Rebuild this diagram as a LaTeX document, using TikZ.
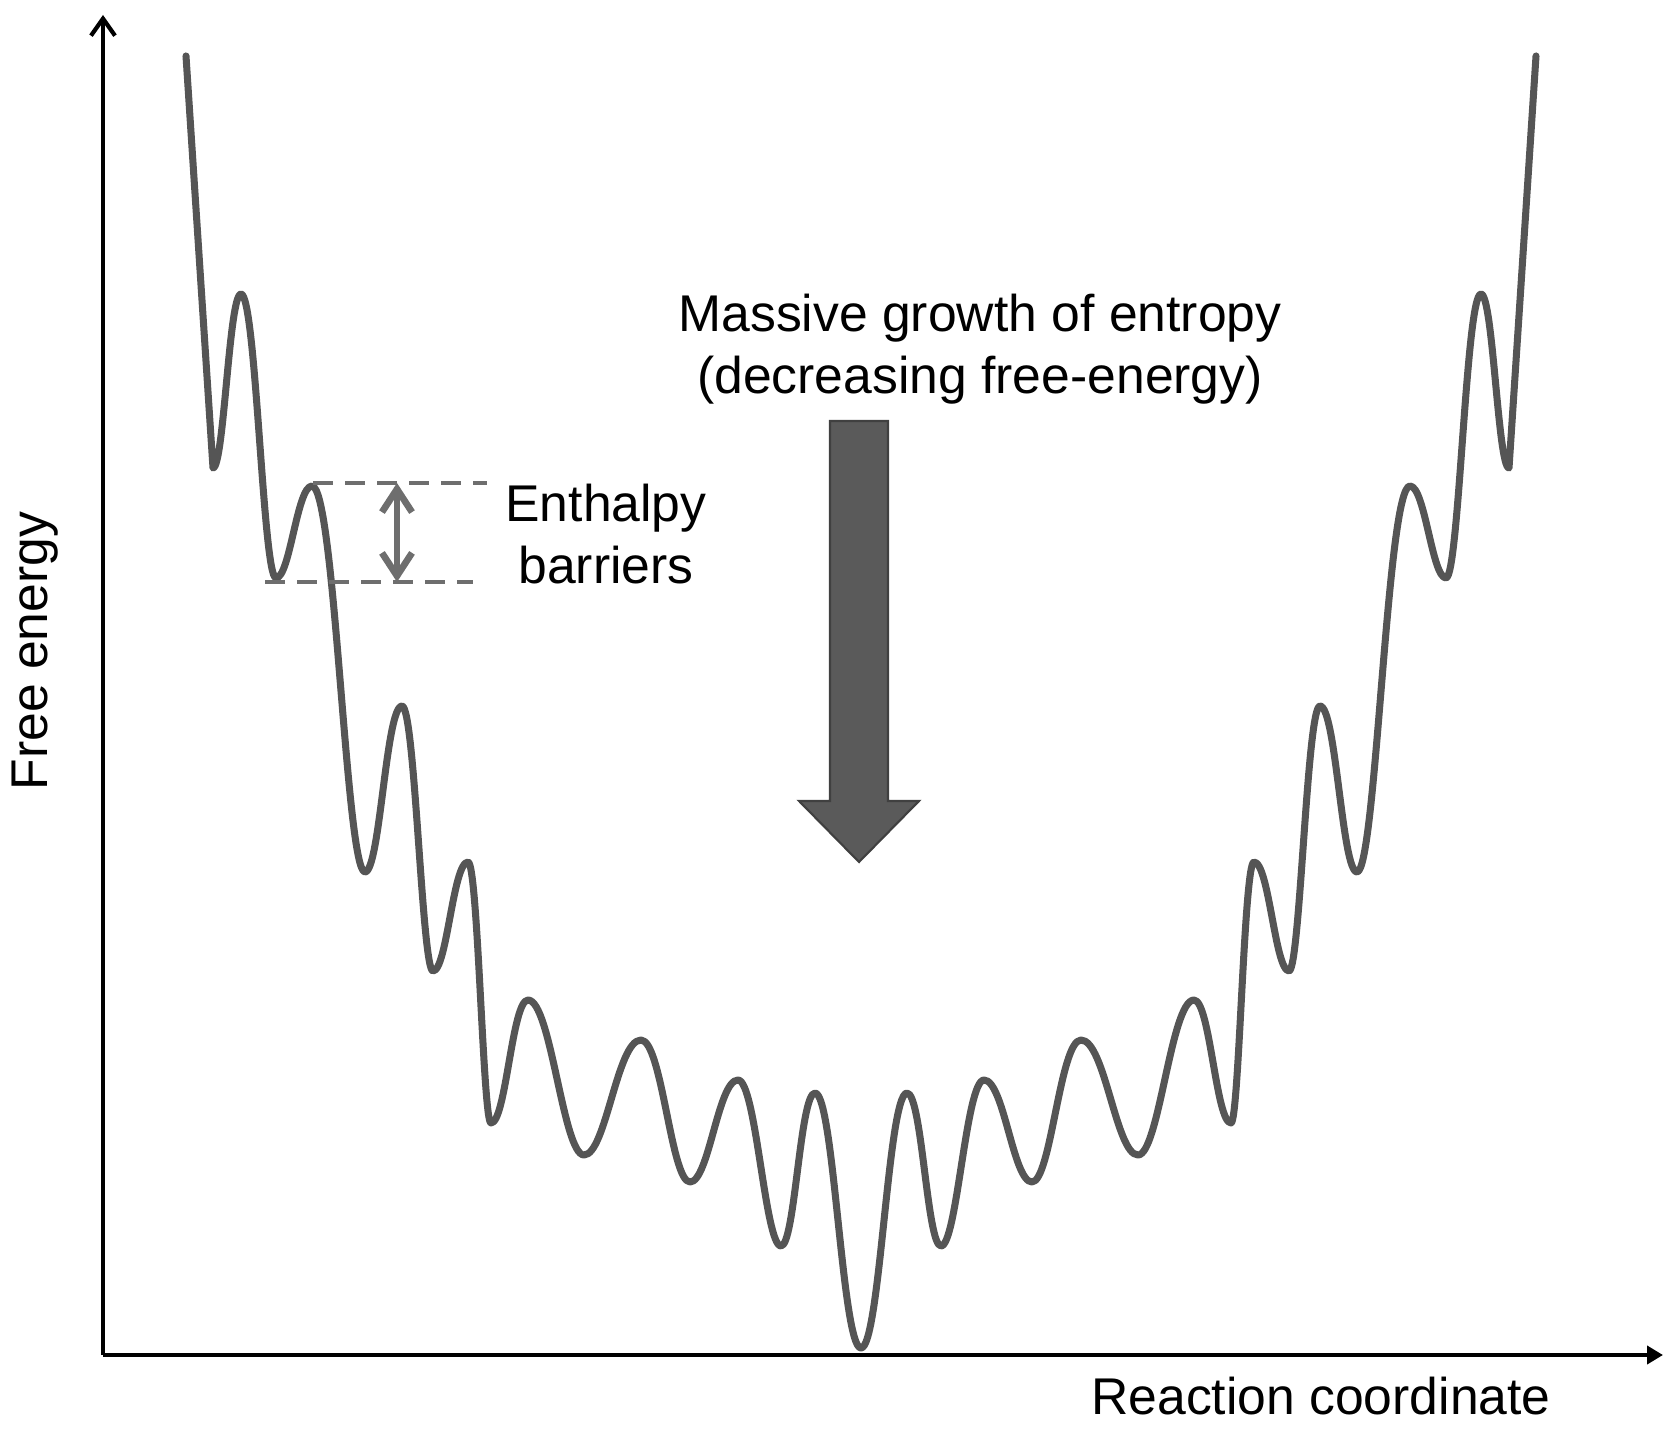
\documentclass[tikz,border=0pt]{standalone}
\usepackage{fontspec}
\setmainfont{Liberation Sans}
\usetikzlibrary{arrows.meta}
\usetikzlibrary{positioning}
\definecolor{curvegray}{HTML}{555555}
\definecolor{guidegray}{HTML}{6E6E6E}
\definecolor{arrowgray}{HTML}{5A5A5A}

\begin{document}
\begin{tikzpicture}[
    axisline/.style={line width=1.2pt, black},
    landscape/.style={line width=2pt, curvegray, line join=round, line cap=round},
    guide/.style={line width=0.9pt, guidegray, dash pattern=on 2mm off 1.2mm},
    barrier/.style={line width=1.9pt, guidegray, {Straight Barb[length=2.3mm,width=3mm]}-{Straight Barb[length=2.3mm,width=3mm]}},
    label/.style={font=\fontsize{14.7}{17.6}\selectfont, align=center, inner sep=0pt}
]
\useasboundingbox (-1.03,-0.73) rectangle (15.74,13.55);
% axes
\coordinate (O) at (0,0);
\coordinate (xtip) at (15.60,0);
\coordinate (ytip) at (0,13.40);
\draw[axisline, -{Triangle[length=1.6mm,width=1.8mm]}] (O) -- (xtip);
\draw[axisline, -{Straight Barb[length=1.7mm,width=2.4mm]}] (O) -- (ytip);
\node[label] (xname) at (12.18,-0.41) {Reaction coordinate};
\node[label, rotate=90] (yname) at (-0.68,7.04) {Free energy};
%% The rugged funnel, left half then its mirror image
\draw[landscape] (0.83,12.99) -- (1.10,8.87)
  .. controls +(0.11,0) and +(-0.12,0) .. (1.38,10.61)
  .. controls +(0.15,0) and +(-0.13,0) .. (1.73,7.77)
  .. controls +(0.14,0) and +(-0.15,0) .. (2.09,8.69)
  .. controls +(0.23,0) and +(-0.19,0) .. (2.62,4.83)
  .. controls +(0.15,0) and +(-0.16,0) .. (2.99,6.49)
  .. controls +(0.13,0) and +(-0.11,0) .. (3.30,3.84)
  .. controls +(0.14,0) and +(-0.15,0) .. (3.65,4.93)
  .. controls +(0.10,0) and +(-0.08,0) .. (3.88,2.32)
  .. controls +(0.15,0) and +(-0.16,0) .. (4.25,3.55)
  .. controls +(0.23,0) and +(-0.21,0) .. (4.81,2.00)
  .. controls +(0.22,0) and +(-0.24,0) .. (5.38,3.15)
  .. controls +(0.21,0) and +(-0.19,0) .. (5.87,1.73)
  .. controls +(0.19,0) and +(-0.20,0) .. (6.35,2.75)
  .. controls +(0.18,0) and +(-0.16,0) .. (6.78,1.09)
  .. controls +(0.14,0) and +(-0.15,0) .. (7.12,2.62)
  .. controls +(0.19,0) and +(-0.19,0) .. (7.58,0.07) % global minimum
  .. controls +(0.19,0) and +(-0.19,0) .. (8.04,2.62)
  .. controls +(0.15,0) and +(-0.14,0) .. (8.38,1.09)
  .. controls +(0.16,0) and +(-0.18,0) .. (8.81,2.75)
  .. controls +(0.20,0) and +(-0.19,0) .. (9.29,1.73)
  .. controls +(0.19,0) and +(-0.21,0) .. (9.78,3.15)
  .. controls +(0.24,0) and +(-0.22,0) .. (10.35,2.00)
  .. controls +(0.21,0) and +(-0.23,0) .. (10.91,3.55)
  .. controls +(0.16,0) and +(-0.15,0) .. (11.28,2.32)
  .. controls +(0.08,0) and +(-0.10,0) .. (11.51,4.93)
  .. controls +(0.15,0) and +(-0.14,0) .. (11.86,3.84)
  .. controls +(0.11,0) and +(-0.13,0) .. (12.17,6.49)
  .. controls +(0.16,0) and +(-0.15,0) .. (12.54,4.83)
  .. controls +(0.19,0) and +(-0.23,0) .. (13.07,8.69)
  .. controls +(0.15,0) and +(-0.14,0) .. (13.43,7.77)
  .. controls +(0.13,0) and +(-0.15,0) .. (13.78,10.61)
  .. controls +(0.12,0) and +(-0.11,0) .. (14.06,8.87)
  -- (14.33,12.99);
%% barrier height
\coordinate (hitop) at (2.94,8.72);
\coordinate (hibot) at (2.94,7.73);
\draw[guide] (2.10,8.72) -- (3.84,8.72); % top
\draw[guide] (1.62,7.73) -- (3.70,7.73); % bottom
\draw[barrier] (hibot) -- (hitop);
\node[label] (barriers) at (5.03,8.21) {Enthalpy\\barriers};
%% entropy arrow
\node[label] (entropy) at (8.77,10.06) {Massive growth of entropy\\(decreasing free-energy)};
\draw[line width=0.6pt, draw=black!75, fill=arrowgray]
  (7.27,9.34) -- (7.85,9.34) -- (7.85,5.54) -- (8.16,5.54) -- (7.56,4.93)
  -- (6.96,5.54) -- (7.27,5.54) -- cycle;
\end{tikzpicture}
\end{document}
